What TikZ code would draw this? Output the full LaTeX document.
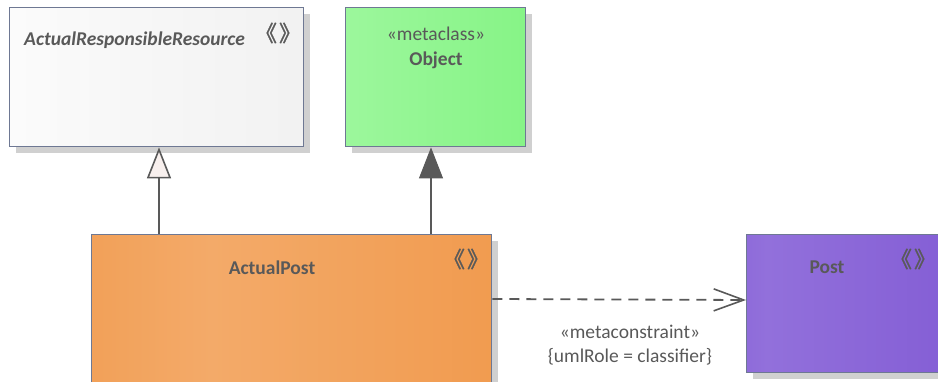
\documentclass[tikz,border=0pt]{standalone}
\usepackage{fontspec}
\setmainfont{Carlito}
\newfontfamily\cjk[FakeBold=1.5]{Noto Sans CJK SC}
\usetikzlibrary{arrows.meta,shadows}
\definecolor{txt}{HTML}{595959}
\definecolor{edge}{HTML}{6E7893}
\definecolor{shd}{HTML}{D0D0D0}
\definecolor{genfill}{HTML}{F8F0EE}
\definecolor{grA}{HTML}{EDEDED}\definecolor{grB}{HTML}{FBFBFB}
\definecolor{gnA}{HTML}{7CF27C}\definecolor{gnB}{HTML}{9CF79C}
\definecolor{orA}{HTML}{F0913E}\definecolor{orB}{HTML}{F3AA69}
\definecolor{puA}{HTML}{7D55D2}\definecolor{puB}{HTML}{9270DB}
\pgfdeclarehorizontalshading{grayshade}{100bp}{color(0bp)=(grA);color(25bp)=(grB);color(100bp)=(grA)}
\pgfdeclarehorizontalshading{greenshade}{100bp}{color(0bp)=(gnA);color(25bp)=(gnB);color(100bp)=(gnA)}
\pgfdeclarehorizontalshading{orangeshade}{100bp}{color(0bp)=(orA);color(40bp)=(orB);color(100bp)=(orA)}
\pgfdeclarehorizontalshading{purpleshade}{100bp}{color(0bp)=(puA);color(30bp)=(puB);color(100bp)=(puA)}
\newcommand{\sterglyph}{\hspace*{-9pt}《\hspace{2pt}》\hspace*{-9pt}}
\tikzset{
  umlbox/.style={draw=edge, line width=1.4pt, rectangle, anchor=north west, inner sep=0pt,
    drop shadow={fill=shd, opacity=1, shadow xshift=6pt, shadow yshift=-6pt}},
  lbl/.style={text=txt, font=\fontsize{19.5}{22}\selectfont, inner sep=0pt},
  blbl/.style={lbl, font=\fontsize{19.5}{22}\selectfont\bfseries},
  ster/.style={text=txt, font=\cjk\fontsize{22}{24}\selectfont, inner sep=0pt},
  conn/.style={draw=txt, line width=1.8pt},
  genarrow/.style={conn, -{Triangle[length=31pt,width=24pt,fill=genfill,line width=1.6pt]}},
  assocarrow/.style={conn, -{Triangle[length=31pt,width=24pt,fill=txt,line width=1pt]}},
  deparrow/.style={conn, dash pattern=on 10pt off 7pt, -{Straight Barb[length=30pt,width=22pt,line width=1.6pt]}}
}
\begin{document}
\begin{tikzpicture}[x=1pt,y=-1pt]
\useasboundingbox (0,0) rectangle (938,382);
\clip (0,0) rectangle (938,382);
% boxes
\node[umlbox, shading=grayshade, minimum width=294pt, minimum height=139pt] (arr) at (9,7) {};
\node[umlbox, shading=greenshade, minimum width=180pt, minimum height=139pt] (obj) at (345,7) {};
\node[umlbox, shading=orangeshade, minimum width=400pt, minimum height=170pt] (ap) at (91,234) {};
\node[umlbox, shading=purpleshade, minimum width=200pt, minimum height=138pt] (post) at (746,234) {};
% texts
\node[lbl, anchor=west, font=\fontsize{19.5}{22}\selectfont\bfseries\itshape] (arrt) at (24,40) {ActualResponsibleResource};
\node[ster] (arrs) at (278,33) {\sterglyph};
\node[lbl] (objs) at (436,34) {«metaclass»};
\node[blbl] (objt) at (436,60) {Object};
\node[blbl] (apt) at (272,268) {ActualPost};
\node[ster] (aps) at (466,259) {\sterglyph};
\node[blbl] (postt) at (827,267) {Post};
\node[ster] (posts) at (913,259) {\sterglyph};
% connectors
\draw[genarrow] (159,0 |- ap.north) -- (159,0 |- arr.south);
\draw[assocarrow] (431,0 |- ap.north) -- (431,0 |- obj.south);
\draw[deparrow] (ap.east |- 0,299) -- (post.west |- 0,300);
\node[lbl] (mc) at (630,332) {«metaconstraint»};
\node[lbl] (ur) at (630,357) {\{umlRole = classifier\}};
\end{tikzpicture}
\end{document}
